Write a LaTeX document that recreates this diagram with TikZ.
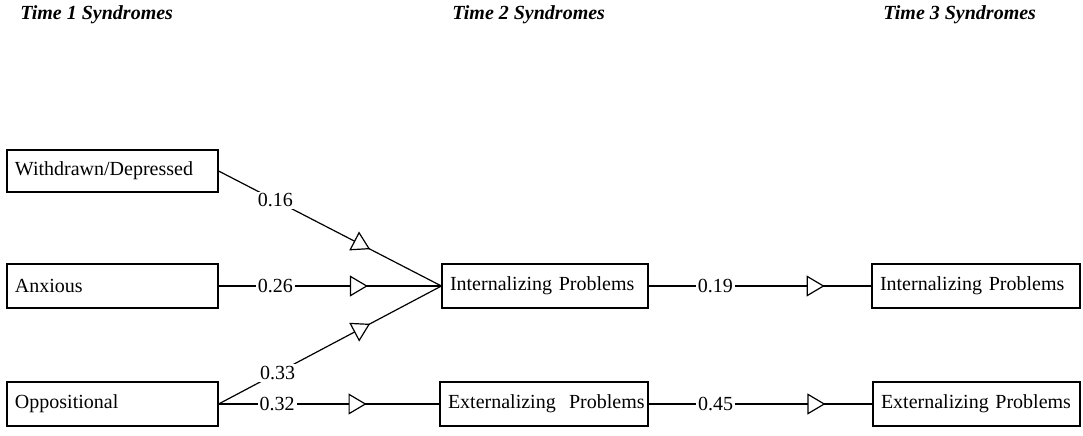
\documentclass[tikz,border=0pt]{standalone}
\usepackage{fontspec}
\setmainfont{Liberation Serif}
\usepackage{tikz}
\usetikzlibrary{positioning,arrows.meta,calc,decorations.markings}

\begin{document}
\begin{tikzpicture}[
    x=0.5pt, y=-0.5pt,
    font=\fontsize{10}{12}\selectfont,
    box/.style={draw, line width=0.6pt, minimum height=22pt, text width=#1, align=left, inner xsep=4pt, inner ysep=0pt},
    box/.default=97pt,
    head/.style={anchor=west, inner sep=0pt, font=\fontsize{10}{12}\selectfont\bfseries\itshape},
    wt/.style={fill=white, inner sep=1pt},
    link/.style={draw, line width=0.6pt, postaction={decorate},
        decoration={markings, mark=at position #1 with {\arrow{Triangle[length=9pt, width=10.5pt, fill=white, line width=0.6pt]}}}}
]
\useasboundingbox (0,0) rectangle (1083,435);

% column headings
\node[head] (h1) at (20,15) {Time 1 Syndromes};
\node[head] (h2) at (452,15) {Time 2 Syndromes};
\node[head] (h3) at (883,15) {Time 3 Syndromes};

% time 1
\node[box=97.5pt, minimum height=21pt] (wd) at (112.5,171) {Withdrawn/Depressed};
\node[box=97.5pt] (anx) at (112.5,286) {Anxious};
\node[box=97.5pt] (opp) at (112.5,404) {Oppositional};

% time 2
\node[box=95pt] (int2) at (545,286) {Internalizing Problems};
\node[box=96pt] (ext2) at (544,404) {\mbox{Externalizing~ Problems}};

% time 3
\node[box=96pt] (int3) at (976,286) {Internalizing Problems};
\node[box=95.5pt] (ext3) at (976.5,404) {\mbox{Externalizing Problems}};

\draw[link=0.68] (wd.east) -- node[wt, pos=0.255] {0.16} (int2.west);
\draw[link=0.67] (anx.east) -- node[wt, pos=0.255] {0.26} (int2.west);
\draw[link=0.68] (opp.east) -- node[wt, pos=0.265] {0.33} (int2.west);
\draw[link=0.67] (opp.east) -- node[wt, pos=0.265] {0.32} (ext2.west);
\draw[link=0.79] (int2.east) -- node[wt, pos=0.30] {0.19} (int3.west);
\draw[link=0.79] (ext2.east) -- node[wt, pos=0.30] {0.45} (ext3.west);
\end{tikzpicture}
\end{document}
